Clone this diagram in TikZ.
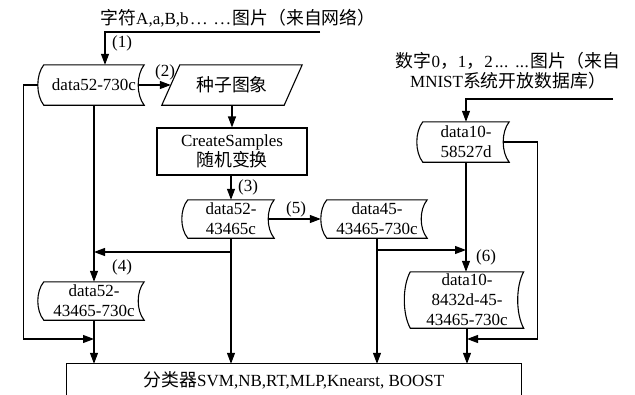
\documentclass[tikz,border=0pt]{standalone}
\usepackage{fontspec}
\setmainfont{Liberation Serif}
\newfontfamily\cjk[Scale=1.05]{Noto Sans CJK SC}
\usetikzlibrary{arrows.meta,calc}
\newcommand\elp[1]{\makebox[#1][s]{\hskip2pt.\hfil.\hfil.\hskip7pt.\hfil.\hfil.\hskip2pt}}
\newcommand\sdshape[1]{%
  \draw[ln] let \p1=(#1.north west), \p2=(#1.south east), \n1={(\y1-\y2)/4} in
   (\x1,\y1) -- (\x2,\y1)
   .. controls (\x2-8pt,\y1-\n1) and (\x2-8pt,\y2+\n1) .. (\x2,\y2)
   -- (\x1,\y2)
   .. controls (\x1-8pt,\y2+\n1) and (\x1-8pt,\y1-\n1) .. cycle;}
\begin{document}
\begin{tikzpicture}[x=1pt,y=-1pt,
  every node/.style={font=\fontsize{17}{20}\selectfont, inner sep=0pt, align=center},
  ln/.style={line width=1.1pt},
  arr/.style={ln,-{Triangle[length=11pt,width=8pt]}}
]
\useasboundingbox (0,0) rectangle (635,394);

% nodes
\node (t1) at (238,18) {{\cjk 字符}A,a,B,b\elp{44pt}{\cjk 图片（来自网络）}};
\coordinate (s1) at (320,32);
\node[minimum width=100pt, minimum height=40pt] (d1) at (94,85) {data52-730c};
\node[minimum width=122pt, minimum height=40pt] (p1) at (232,85) {\cjk 种子图象};
\node[minimum width=150pt, minimum height=47pt, draw, line width=1.1pt] (b1) at (232,151.5) {CreateSamples\\{\cjk 随机变换}};
\node[minimum width=86pt, minimum height=38pt] (d2) at (231,219) {data52-\\43465c};
\node[minimum width=100pt, minimum height=38pt] (d3) at (377,219) {data45-\\43465-730c};
\node[minimum width=100pt, minimum height=38pt] (d4) at (94,301) {data52-\\43465-730c};
\node (t2) at (508,71) {{\cjk 数字}0{\cjk ，}1{\cjk ，}2\elp{38pt}{\cjk 图片（来自}\\MNIST{\cjk 系统开放数据库）}};
\coordinate (s2) at (613,99);
\node[minimum width=86pt, minimum height=40pt] (d5) at (466,142) {data10-\\58527d};
\node[minimum width=113pt, minimum height=56pt] (d6) at (467,300) {data10-\\8432d-45-\\43465-730c};
\node[minimum width=454pt, minimum height=32pt] (c1) at (294,380) {{\cjk 分类器}SVM,NB,RT,MLP,Knearst, BOOST};

% labels
\node (l1) at (122,43) {(1)};
\node (l2) at (165,72) {(2)};
\node (l3) at (248,187) {(3)};
\node (l4) at (122,267) {(4)};
\node (l5) at (296,209) {(5)};
\node (l6) at (486,257) {(6)};

% shapes
\sdshape{d1}
\sdshape{d2}
\sdshape{d3}
\sdshape{d4}
\sdshape{d5}
\sdshape{d6}
\draw[ln] ([xshift=9pt]p1.north west) -- ([xshift=9pt]p1.north east) -- ([xshift=-9pt]p1.south east) -- ([xshift=-9pt]p1.south west) -- cycle;
\draw[ln] ([yshift=-20pt]c1.south west) -- (c1.north west) -- (c1.north east) -- ([yshift=-20pt]c1.south east);

% connectors
\draw[arr] (s1) -| ([xshift=11pt]d1.north);
\draw[arr] ([xshift=-6pt]d1.east) -- (p1.west);
\draw[arr] (p1.south) -- (b1.north);
\draw[arr] (b1.south -| d2.north) -- (d2.north);
\draw[arr] ([xshift=-6pt]d2.east) -- ([xshift=-6pt]d3.west);
\draw[arr] (d2.south) -- (d2.south |- c1.north);
\draw[arr] (d2.south |- 0,252) -- (d1.south |- 0,252);
\draw[arr] (d1.south) -- (d4.north);
\draw[arr] ([xshift=-6pt]d1.west) -- ++(-14,0) |- (d4.south |- 0,339);
\draw[arr] (d4.south) -- (d4.south |- c1.north);
\draw[arr] (d3.south) -- (d3.south |- c1.north);
\draw[arr] (d3.south |- 0,250) -- (d5.south |- 0,250);
\draw[arr] (s2) -| (d5.north);
\draw[arr] (d5.south) -- (d5.south |- d6.north);
\draw[arr] ([xshift=-6pt]d5.east) -- ++(34,0) |- (d6.south |- 0,339);
\draw[arr] (d6.south) -- (d6.south |- c1.north);
\end{tikzpicture}
\end{document}
